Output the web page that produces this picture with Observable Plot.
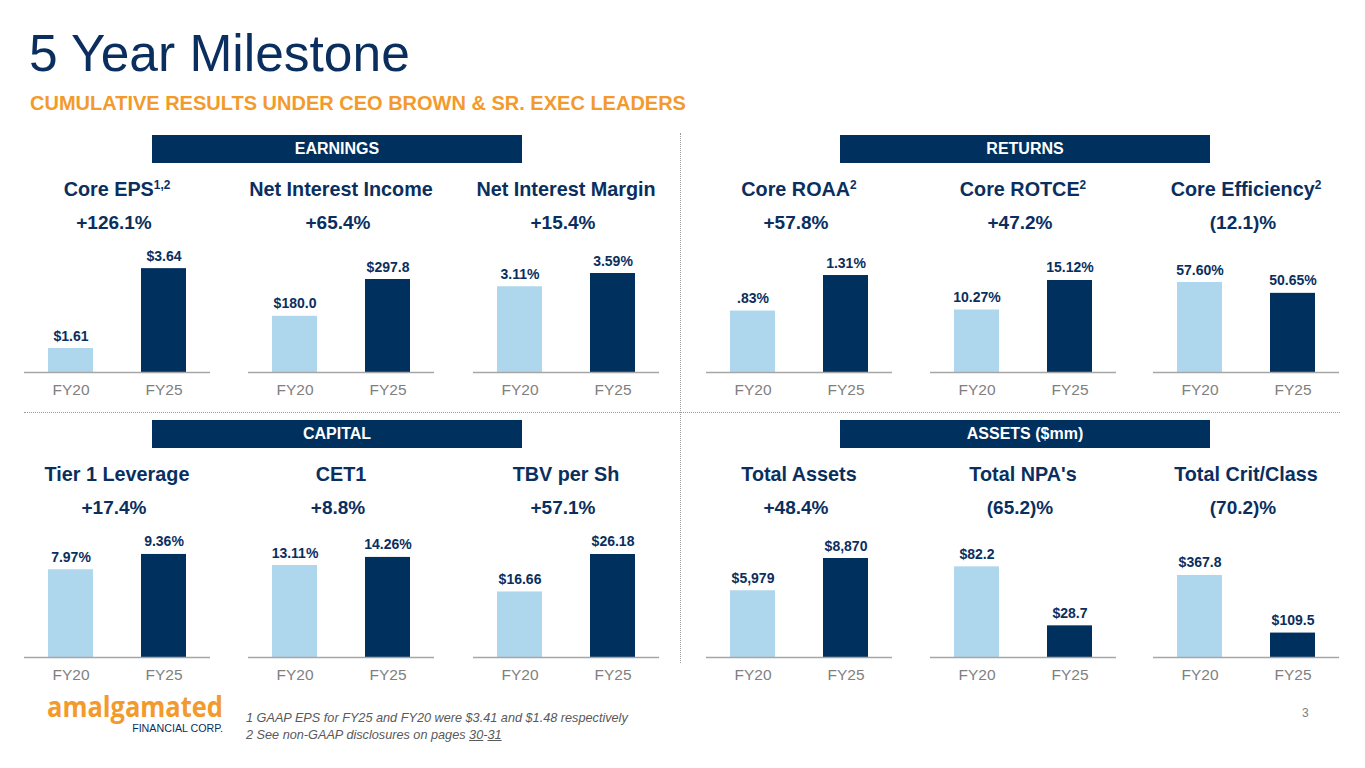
<!DOCTYPE html>
<html>
<head>
<meta charset="utf-8">
<script src="https://cdn.jsdelivr.net/npm/d3@7"></script>
<script src="https://cdn.jsdelivr.net/npm/@observablehq/plot@0.6"></script>
<style>
  html, body { margin: 0; padding: 0; background: #ffffff; }
  #slide { position: relative; width: 1365px; height: 768px; overflow: hidden; background: #ffffff;
           font-family: "Liberation Sans", Arial, sans-serif; }
  .abs { position: absolute; white-space: nowrap; line-height: 1; }
  .panel { position: absolute; }
  .hdr { position: absolute; background: #00305E; color: #ffffff; font-weight: bold; font-size: 16px;
         text-align: center; height: 28px; line-height: 28px; }
</style>
</head>
<body>
<div id="slide"></div>
<script>
// ---------------- data ----------------
const periods = ["FY20", "FY25"];
const sections = ["EARNINGS", "RETURNS", "CAPITAL", "ASSETS ($mm)"];
const metricNames = ["Core EPS", "Net Interest Income", "Net Interest Margin", "Core ROAA", "Core ROTCE", "Core Efficiency",
                     "Tier 1 Leverage", "CET1", "TBV per Sh", "Total Assets", "Total NPA's", "Total Crit/Class"];
const metricNotes = ["1,2", "", "", "2", "2", "2", "", "", "", "", "", ""];
const changeLabels = ["+126.1%", "+65.4%", "+15.4%", "+57.8%", "+47.2%", "(12.1)%",
                      "+17.4%", "+8.8%", "+57.1%", "+48.4%", "(65.2)%", "(70.2)%"];
const fy20Values = [1.61, 180.0, 3.11, 0.83, 10.27, 57.60, 7.97, 13.11, 16.66, 5979, 82.2, 367.8];
const fy25Values = [3.64, 297.8, 3.59, 1.31, 15.12, 50.65, 9.36, 14.26, 26.18, 8870, 28.7, 109.5];
const fy20Labels = ["$1.61", "$180.0", "3.11%", ".83%", "10.27%", "57.60%", "7.97%", "13.11%", "$16.66", "$5,979", "$82.2", "$367.8"];
const fy25Labels = ["$3.64", "$297.8", "3.59%", "1.31%", "15.12%", "50.65%", "9.36%", "14.26%", "$26.18", "$8,870", "$28.7", "$109.5"];
// value-axis domains of each small chart (the Core EPS axis does not start at zero)
const yDomainMin = [1, 0, 0, 0, 0, 0, 0, 0, 0, 0, 0, 0];
const yDomainMax = [4.05, 384.3, 4.352, 1.621, 19.72, 76.8, 10.9, 17.1, 30.5, 10752, 108.8, 538];
const footnotes = ["1 GAAP EPS for FY25 and FY20 were $3.41 and $1.48 respectively",
                   "2 See non-GAAP disclosures on pages <u>30</u>-<u>31</u>"];

// ---------------- styles & layout ----------------
const FONT = "'Liberation Sans', Arial, sans-serif";
const NAVY = "#0A2F5E";
const BAR_DARK = "#00305E";
const BAR_LIGHT = "#AED6EC";
const ORANGE = "#F39A2C";
const GRAY = "#7F7F7F";

const slide = document.getElementById("slide");

function addText(html, {x, baseline, size, weight = "normal", color = NAVY, anchor = "start", italic = false, family = FONT}) {
  const d = document.createElement("div");
  d.className = "abs";
  d.innerHTML = html;
  d.style.fontSize = size + "px";
  d.style.fontWeight = weight;
  d.style.color = color;
  d.style.fontFamily = family;
  if (italic) d.style.fontStyle = "italic";
  d.style.top = (baseline - 0.8465 * size) + "px";
  if (anchor === "middle") {
    d.style.left = (x - 300) + "px";
    d.style.width = "600px";
    d.style.textAlign = "center";
  } else {
    d.style.left = x + "px";
  }
  slide.appendChild(d);
  return d;
}

// title + subtitle
addText("5 Year Milestone", {x: 29, baseline: 72, size: 51.5, color: NAVY});
addText("CUMULATIVE RESULTS UNDER CEO BROWN &amp; SR. EXEC LEADERS", {x: 30, baseline: 110, size: 20, weight: "bold", color: ORANGE});

// dotted separators
const vline = document.createElement("div");
Object.assign(vline.style, {position: "absolute", left: "680px", top: "133px", height: "530px", width: "0px", borderLeft: "1px dotted #9A9A9A"});
slide.appendChild(vline);
const hline = document.createElement("div");
Object.assign(hline.style, {position: "absolute", left: "24px", top: "412px", width: "1316px", height: "0px", borderTop: "1px dotted #9A9A9A"});
slide.appendChild(hline);

// section headers
const rowOffset = 285;
const headerLefts = [152, 840, 152, 840];
sections.forEach((s, k) => {
  const h = document.createElement("div");
  h.className = "hdr";
  h.textContent = s;
  h.style.left = headerLefts[k] + "px";
  h.style.width = "370px";
  h.style.top = (135 + (k >= 2 ? rowOffset : 0)) + "px";
  slide.appendChild(h);
});

// small bar charts
const panelLefts = [0, 224, 449, 682, 906, 1129];

function panel(i) {
  const rows = periods.map((p, j) => ({
    period: p,
    base: yDomainMin[i],
    value: j ? fy25Values[i] : fy20Values[i],
    label: j ? fy25Labels[i] : fy20Labels[i]
  }));
  return Plot.plot({
    width: 224, height: 170,
    marginTop: 20, marginBottom: 30, marginLeft: 24, marginRight: 14,
    style: {fontFamily: FONT, fontSize: "15.5px", color: GRAY, background: "transparent", overflow: "visible"},
    x: {domain: periods, paddingInner: 0.516, paddingOuter: 0.258, tickSize: 0, tickPadding: 11, label: null},
    y: {domain: [yDomainMin[i], yDomainMax[i]], axis: null},
    color: {domain: periods, range: [BAR_LIGHT, BAR_DARK]},
    marks: [
      Plot.barY(rows, {x: "period", y1: "base", y2: "value", fill: "period"}),
      Plot.ruleY([yDomainMin[i]], {stroke: "#A6A6A6", strokeWidth: 1.5}),
      Plot.text(rows, {x: "period", y: "value", text: "label", lineAnchor: "bottom", dy: -8,
                       fontSize: 14, fontWeight: "bold", fill: NAVY})
    ]
  });
}

metricNames.forEach((name, i) => {
  const row = i < 6 ? 0 : 1;
  const col = i % 6;
  const left = panelLefts[col];
  const dy = row * rowOffset;
  const center = left + 117;
  const sup = metricNotes[i]
    ? `<span style="font-size:0.6em;position:relative;top:-0.62em;">${metricNotes[i]}</span>` : "";
  addText(name + sup, {x: center, baseline: 197 + dy, size: 19.8, weight: "bold", anchor: "middle"});
  addText(changeLabels[i], {x: center - 3, baseline: 229 + dy, size: 19, weight: "bold", anchor: "middle"});
  const wrap = document.createElement("div");
  wrap.className = "panel";
  wrap.style.left = left + "px";
  wrap.style.top = (232 + dy) + "px";
  wrap.appendChild(panel(i));
  slide.appendChild(wrap);
});

// footnotes
footnotes.forEach((f, k) => addText(f, {x: 246, baseline: 723 + k * 17, size: 12.7, italic: true, color: "#595959"}));

// page number
addText("3", {x: 1302, baseline: 717, size: 12, color: GRAY});

// logo
const NS = "http://www.w3.org/2000/svg";
const logo = document.createElementNS(NS, "svg");
logo.setAttribute("width", "200");
logo.setAttribute("height", "54");
Object.assign(logo.style, {position: "absolute", left: "40px", top: "688px", overflow: "visible"});
const t1 = document.createElementNS(NS, "text");
t1.setAttribute("x", "7"); t1.setAttribute("y", "28.5");
t1.setAttribute("textLength", "176"); t1.setAttribute("lengthAdjust", "spacingAndGlyphs");
t1.setAttribute("fill", ORANGE);
t1.setAttribute("style", "font-family: 'Open Sans', Lato, sans-serif; font-weight: 700; font-size: 29px;");
t1.textContent = "amalgamated";
const t2 = document.createElementNS(NS, "text");
t2.setAttribute("x", "183"); t2.setAttribute("y", "44");
t2.setAttribute("text-anchor", "end");
t2.setAttribute("fill", NAVY);
t2.setAttribute("style", "font-family: 'Liberation Sans', Arial, sans-serif; font-size: 10.7px;");
t2.textContent = "FINANCIAL CORP.";
logo.appendChild(t1); logo.appendChild(t2);
slide.appendChild(logo);
</script>
</body>
</html>
